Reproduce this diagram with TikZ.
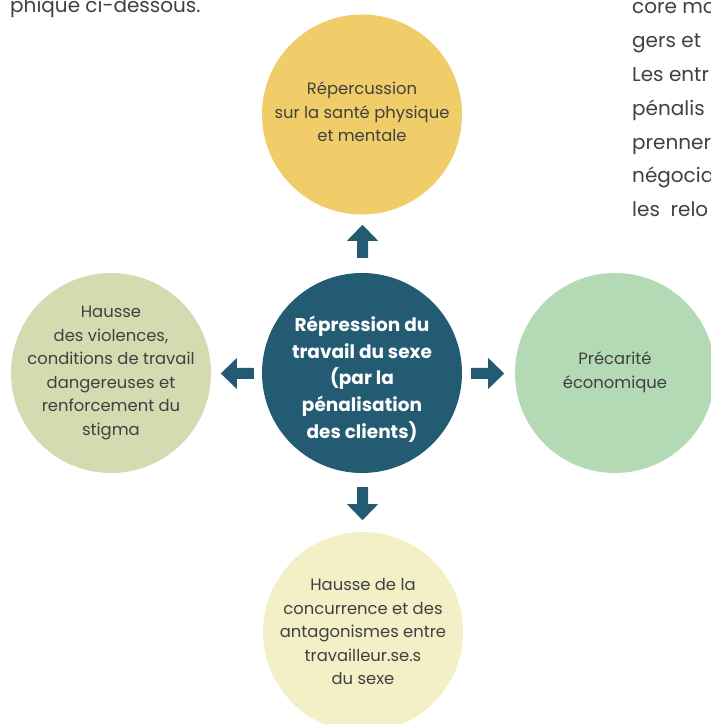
\documentclass[tikz,border=0pt]{standalone}
\usepackage{fontspec}
\setmainfont{Poppins}
\usetikzlibrary{calc}
\definecolor{teal}{HTML}{235B73}
\definecolor{cyellow}{HTML}{F0CD68}
\definecolor{colive}{HTML}{D5DAB0}
\definecolor{cgreen}{HTML}{B3D9B5}
\definecolor{ccream}{HTML}{F3EFC7}
\definecolor{txt}{HTML}{404040}
\tikzset{
  bubble/.style={circle, minimum size=200pt, inner sep=0pt},
  label/.style={align=center, inner sep=0pt, text=txt, font=\fontsize{16.4}{23.5}\selectfont},
  pagetext/.style={anchor=base west, inner sep=0pt, text=txt, font=\fontsize{20}{20}\selectfont},
  pics/barrow/.style={code={
    \fill[teal] (0,-5.5) -- (17,-5.5) -- (17,-15.5) -- (33,0) -- (17,15.5) -- (17,5.5) -- (0,5.5) -- cycle;}}
}
\begin{document}
\begin{tikzpicture}[x=1pt,y=1pt]
\useasboundingbox (0,0) rectangle (711,724);
\clip (0,0) rectangle (711,724);
% circles
\node[bubble, fill=teal] (c) at (362,351) {};
\node[bubble, fill=cyellow] (t) at (362,609.5) {};
\node[bubble, fill=colive] (l) at (111,351) {};
\node[bubble, fill=cgreen] (r) at (615,351) {};
\node[bubble, fill=ccream] (b) at (363,92) {};
% texts
\node[label, text=white, font=\fontsize{18.5}{26.7}\selectfont\bfseries] (ct) at ($(c.center)+(0,-6)$)
  {Répression du\\travail du sexe\\(par la\\pénalisation\\des clients)};
\node[label] (tt) at ($(t.center)+(0,2.5)$) {Répercussion\\sur la santé physique\\et mentale};
\node[label] (lt) at ($(l.center)+(0,0)$) {Hausse\\des violences,\\conditions de travail\\dangereuses et\\renforcement du\\stigma};
\node[label] (rt) at ($(r.center)+(0,1)$) {Précarité\\économique};
\node[label] (bt) at ($(b.center)+(0,0)$) {Hausse de la\\concurrence et des\\antagonismes entre\\travailleur.se.s\\du sexe};
% block arrows
\pic[rotate=90] at ($(c.north)+(0.5,15)$) {barrow};
\pic[rotate=-90] at ($(c.south)+(0.5,-14)$) {barrow};
\pic[rotate=180] at ($(c.west)+(-8,-0.5)$) {barrow};
\pic at ($(c.east)+(9,-0.5)$) {barrow};
% surrounding page text (cut by the page edge, as in the original)
\node[pagetext] (p0) at (10,711) {phique ci-dessous.};
\node[pagetext] (q1) at (632,710) {core mo};
\node[pagetext] (q2) at (632,676.2) {gers et};
\node[pagetext] (q3) at (632,642.4) {Les entr};
\node[pagetext] (q4) at (632,608.6) {pénalis};
\node[pagetext] (q5) at (632,574.8) {prenner};
\node[pagetext] (q6) at (632,541) {négocia};
\node[pagetext] (q7) at (632,507.2) {les\ \ relo};
\end{tikzpicture}
\end{document}
